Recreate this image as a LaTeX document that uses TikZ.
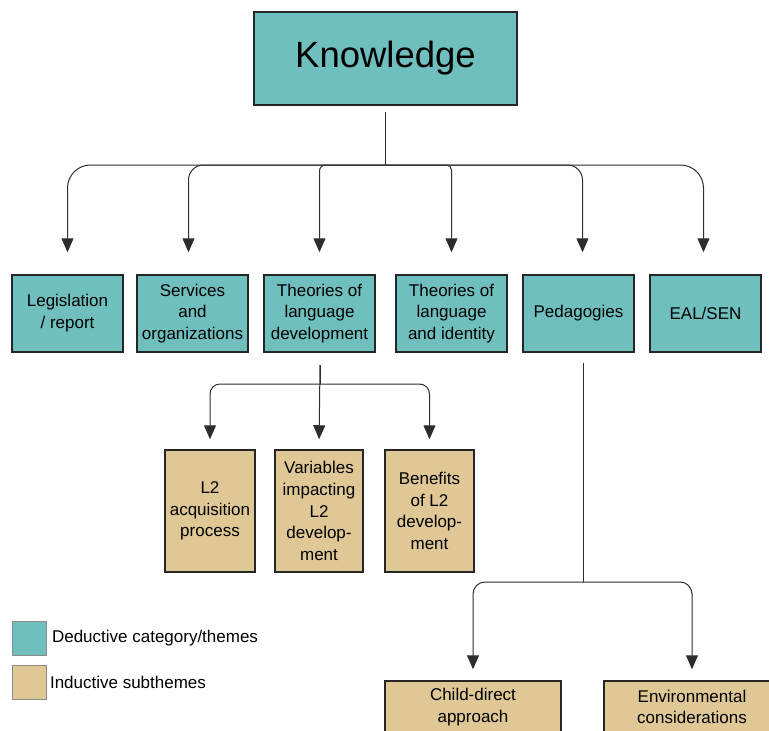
\documentclass[tikz,border=0pt]{standalone}
\usepackage{fontspec}
\setmainfont{Liberation Sans}
\usepackage{tikz}
\usetikzlibrary{positioning,arrows.meta}

\definecolor{teal1}{RGB}{111,191,190}
\definecolor{tan1}{RGB}{224,200,150}
\definecolor{wire}{RGB}{45,45,45}

\begin{document}
\begin{tikzpicture}[x=1pt,y=-1pt,
    catbox/.style={draw=black!85, line width=1.5pt, fill=teal1, align=center,
        minimum width=111pt, minimum height=77pt, inner sep=0pt},
    subbox/.style={draw=black!85, line width=1.5pt, fill=tan1, align=center,
        minimum height=122pt, inner sep=0pt},
    legbox/.style={draw=black!45, line width=1pt, minimum size=34pt, inner sep=0pt},
    wired/.style={draw=wire, line width=1pt, -{Triangle[width=12pt,length=14pt]}},
    txt/.style={font=\fontsize{17}{21.8}\selectfont}]
    \useasboundingbox (0,0) rectangle (769,731);

    % Top theme
    \node[catbox, minimum width=263pt, minimum height=93pt,
        font=\fontsize{36.5}{40}\selectfont] (know) at (385.5,58.5) {\raisebox{-3pt}{Knowledge}};

    % Define coordinates
    \coordinate (ktop) at (385.5,112);
    \coordinate (kj) at (385.5,165);
    \coordinate (dtop) at (320,365);
    \coordinate (dj) at (320,384);
    \coordinate (ptop) at (583,363);
    \coordinate (pj) at (583,582);

    % Deductive categories
    \node[catbox, txt] (leg) at (67.5,313.5) {Legislation\\/ report};
    \node[catbox, txt] (svc) at (192.5,313.5) {Services\\and\\organizations};
    \node[catbox, txt] (dev) at (319.5,313.5) {Theories of\\language\\development};
    \node[catbox, txt] (ide) at (451.5,313.5) {Theories of\\language\\and identity};
    \node[catbox, txt] (ped) at (578.5,313.5) {Pedagogies};
    \node[catbox, txt] (eal) at (705.5,313.5) {EAL/SEN};

    % Inductive subthemes
    \node[subbox, txt, minimum width=90pt] (acq) at (210,511) {L2\\acquisition\\process};
    \node[subbox, txt, minimum width=88pt] (var) at (319,511) {Variables\\impacting\\L2\\develop-\\ment};
    \node[subbox, txt, minimum width=89pt] (ben) at (429.5,511) {Benefits\\of L2\\develop-\\ment};
    \node[subbox, txt, minimum width=176pt, minimum height=52pt] (chd) at (473,707) {Child-direct\\approach};
    \node[subbox, txt, minimum width=176pt, minimum height=52pt] (env) at (692,707) {Environmental\\considerations};

    % Connectors from the top
    \draw[draw=wire, line width=1pt] (ktop) -- (kj);
    \draw[wired, rounded corners=23pt, shorten >=22pt] (kj) -| (leg.north);
    \draw[wired, rounded corners=15pt, shorten >=22pt] (kj) -| ([xshift=-4pt]svc.north);
    \draw[wired, rounded corners=6pt, shorten >=22pt] (kj) -| (dev.north);
    \draw[wired, rounded corners=5pt, shorten >=22pt] (kj) -| (ide.north);
    \draw[wired, rounded corners=15pt, shorten >=22pt] (kj) -| ([xshift=4pt]ped.north);
    \draw[wired, rounded corners=23pt, shorten >=22pt] (kj) -| ([xshift=-2pt]eal.north);

    % Language development branch
    \draw[draw=wire, line width=1pt] (dtop) -- (dj);
    \draw[wired, shorten >=10pt] (dtop) -- (var.north);
    \draw[wired, rounded corners=10pt, shorten >=10pt] (dj) -| (acq.north);
    \draw[wired, rounded corners=10pt, shorten >=10pt] (dj) -| (ben.north);

    % Pedagogies branch
    \draw[draw=wire, line width=1pt] (ptop) -- (pj);
    \draw[wired, rounded corners=12pt, shorten >=11pt] (pj) -| (chd.north);
    \draw[wired, rounded corners=12pt, shorten >=11pt] (pj) -| (env.north);

    % Legend
    \node[legbox, fill=teal1] (dedsq) at (29,638.5) {};
    \node[legbox, fill=tan1] (indsq) at (29,682.5) {};
    \node[txt, right=2pt of dedsq] (dedtx) {Deductive category/themes};
    \node[txt, right=0pt of indsq] (indtx) {Inductive subthemes};
\end{tikzpicture}
\end{document}
